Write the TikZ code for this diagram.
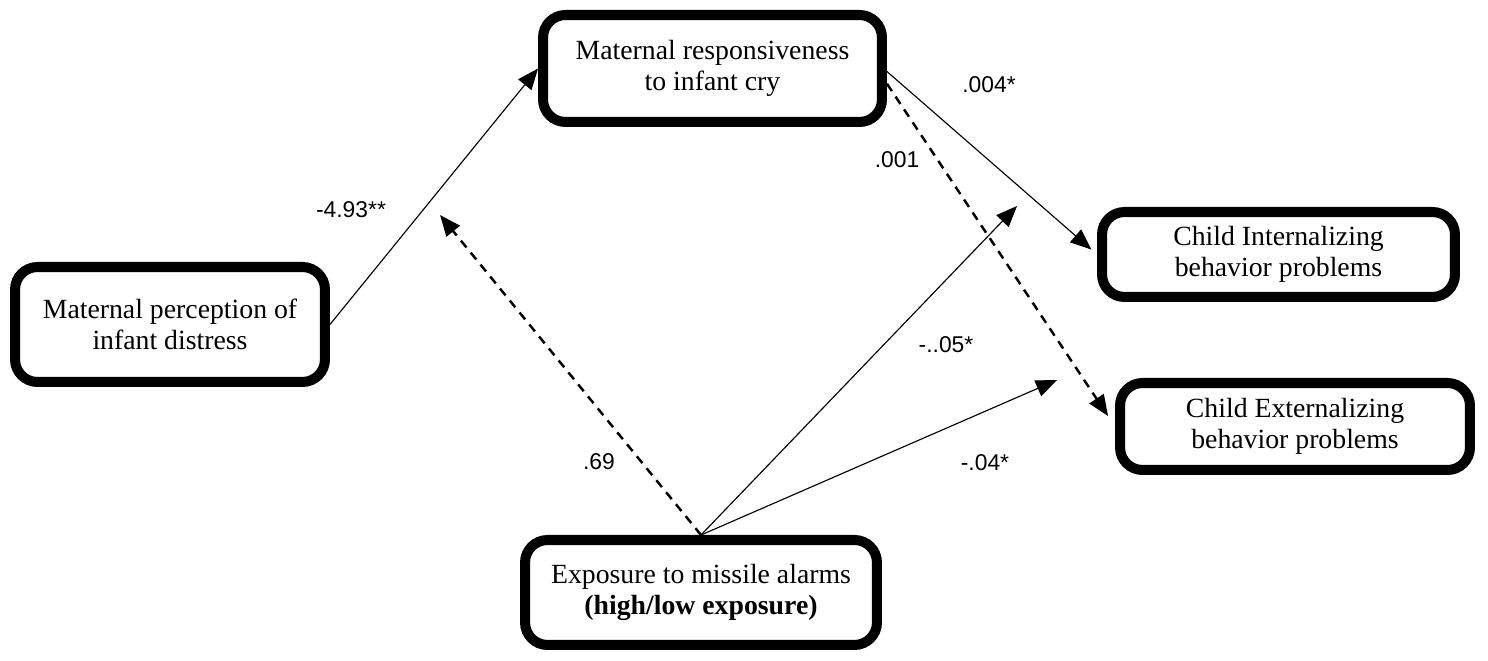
\documentclass[tikz,border=0pt]{standalone}
\usepackage{fontspec}
\setmainfont{Liberation Serif}
\newfontfamily\coeffont{Liberation Sans}
\usepackage{tikz}
\usetikzlibrary{positioning, arrows.meta, calc}
\tikzstyle{box} = [
    rectangle, align=center,
    draw=black,
    line width=5.7pt,
    rounded corners=0.45cm,
    font=\fontsize{15.8}{17.8}\selectfont,
]
\tikzstyle{arrow} = [-{Triangle[length=0.42cm,width=0.34cm]}, line width=0.65pt]
\tikzstyle{dasharrow} = [
    arrow,
    line width=1.4pt,
    dash pattern=on 5pt off 3.8pt,
]
\tikzstyle{coef} = [font=\coeffont\fontsize{13}{15}\selectfont]

\begin{document}
\begin{tikzpicture}[x=0.02cm, y=-0.02cm]
    \useasboundingbox (0,0) rectangle (1488,661);

    % boxes
    \node (percep) at (170,324.5) [box, minimum width=6.2cm, minimum height=2.3cm]
        {Maternal perception of\\infant distress};
    \node (resp) at (712.5,68.5) [box, minimum width=6.78cm, minimum height=2.14cm]
        {Maternal responsiveness\\to infant cry};
    \node (intern) at (1278.5,254.5) [box, minimum width=7.06cm, minimum height=1.7cm]
        {Child Internalizing\\behavior problems};
    \node (extern) at (1295,426.5) [box, minimum width=7cm, minimum height=1.74cm]
        {Child Externalizing\\behavior problems};
    \node (expo) at (701,592.5) [box, minimum width=7.04cm, minimum height=2.1cm]
        {Exposure to missile alarms\\\textbf{(high/low exposure)}};

    % free arrow ends
    \coordinate (tip69) at (440,215);
    \coordinate (tip05) at (1017,206);
    \coordinate (tip04) at (1057,380);

    % arrows
    \draw [arrow] (percep.east) to (resp.west);
    \draw [arrow, shorten >=0.15cm] (resp.-1.5) to (intern.west);
    \draw [dasharrow, shorten >=0.25cm] (resp.-5.4) to (extern.west);
    \draw [dasharrow] (expo.north) to (tip69);
    \draw [arrow] (expo.north) to (tip05);
    \draw [arrow] (expo.north) to (tip04);

    % coefficients
    \node (c493) at (351,210) [coef] {-4.93**};
    \node (c004) at (989,85) [coef] {.004*};
    \node (c001) at (897,160) [coef] {.001};
    \node (c69) at (599,462) [coef] {.69};
    \node (c05) at (946,345) [coef] {-..05*};
    \node (c04) at (985,463) [coef] {-.04*};
\end{tikzpicture}
\end{document}
